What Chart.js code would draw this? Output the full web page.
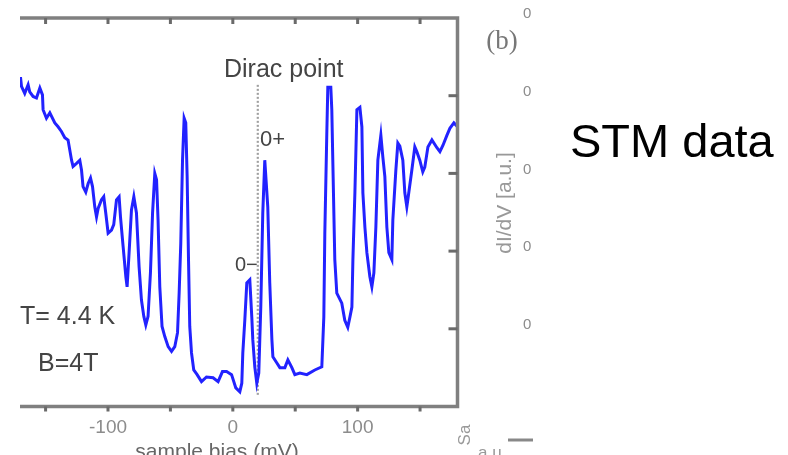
<!DOCTYPE html>
<html>
<head>
<meta charset="utf-8">
<script src="https://cdn.jsdelivr.net/npm/chart.js@4.4.0/dist/chart.umd.min.js"></script>
<style>
    html, body { margin: 0; padding: 0; background: #fff; }
    #wrap { width: 788px; height: 455px; }
</style>
</head>
<body>
<div id="wrap"><canvas id="stm-chart" width="788" height="455"></canvas></div>
<script>
// Tunnelling spectrum dI/dV vs sample bias, T = 4.4 K, B = 4 T
const biasMv = [
    -170.1, -169.3, -166.7, -164.0, -162.7, -160.0, -157.3, -154.6, -152.5, -152.0,
    -149.3, -146.6, -142.6, -140.0, -137.3, -134.6, -132.0, -129.2, -128.0, -125.2,
    -122.6, -121.2, -120.0, -117.8, -115.9, -114.0, -112.4, -110.6, -109.2, -107.9,
    -105.2, -103.4, -101.8, -99.9, -97.2, -95.4, -93.2, -91.1, -90.0, -87.9,
    -85.7, -84.7, -83.1, -81.2, -79.3, -77.2, -75.1, -73.2, -71.3, -69.7,
    -67.9, -66.0, -64.3, -62.5, -61.1, -59.9, -58.5, -56.7, -54.5, -51.8,
    -49.1, -46.5, -44.3, -43.0, -41.7, -40.3, -39.0, -37.7, -36.6, -35.5,
    -34.5, -33.1, -31.3, -28.6, -25.1, -21.1, -15.8, -11.8, -8.3, -5.0,
    -1.0, 2.4, 5.6, 7.2, 8.0, 9.6, 11.2, 13.6, 15.2, 16.0,
    17.6, 19.2, 20.8, 22.4, 24.0, 25.6, 28.0, 29.6, 31.3, 32.1,
    35.3, 37.7, 41.7, 44.1, 47.3, 49.7, 53.7, 59.3, 65.7, 71.3,
    72.9, 73.7, 75.3, 76.1, 78.5, 79.3, 80.1, 81.7, 83.3, 87.3,
    89.7, 92.1, 93.8, 95.4, 96.2, 97.8, 99.4, 101.8, 103.4, 104.2,
    105.8, 107.4, 109.8, 111.4, 113.0, 114.6, 116.2, 118.6, 120.2, 121.8,
    123.4, 125.0, 127.4, 128.2, 130.6, 132.2, 133.8, 136.2, 137.8, 139.4,
    140.2, 143.4, 145.8, 147.4, 149.8, 152.2, 153.8, 156.3, 159.5, 163.5,
    165.9, 168.3, 171.5, 173.9, 177.1, 180.0
];
const dIdV = [
    4.24, 4.12, 4.03, 4.14, 4.05, 3.99, 3.97, 4.10, 4.01, 3.82,
    3.71, 3.78, 3.65, 3.60, 3.54, 3.46, 3.43, 3.17, 3.09, 3.13,
    3.17, 3.04, 2.83, 2.76, 2.87, 2.94, 2.83, 2.57, 2.44, 2.55,
    2.66, 2.70, 2.49, 2.23, 2.27, 2.34, 2.66, 2.70, 2.44, 2.06,
    1.67, 1.54, 1.98, 2.53, 2.70, 2.49, 1.80, 1.37, 1.16, 1.05,
    1.16, 1.72, 2.49, 3.00, 2.92, 2.40, 1.54, 1.03, 0.90, 0.77,
    0.71, 0.77, 0.95, 1.46, 2.10, 3.17, 3.71, 3.65, 2.96, 1.89,
    1.03, 0.69, 0.47, 0.41, 0.32, 0.38, 0.37, 0.32, 0.45, 0.45,
    0.41, 0.24, 0.19, 0.30, 0.69, 1.11, 1.59, 1.63, 1.15, 0.86,
    0.51, 0.30, 0.43, 1.28, 2.49, 3.17, 2.57, 1.59, 0.86, 0.64,
    0.56, 0.50, 0.50, 0.60, 0.50, 0.41, 0.43, 0.41, 0.47, 0.51,
    1.15, 2.23, 3.52, 4.11, 4.11, 3.82, 3.17, 1.89, 1.46, 1.33,
    1.11, 1.02, 1.15, 1.28, 1.89, 2.75, 3.82, 3.85, 3.60, 2.75,
    2.31, 1.98, 1.67, 1.54, 1.72, 2.31, 3.17, 3.49, 3.21, 2.96,
    2.31, 1.98, 1.89, 2.40, 3.04, 3.39, 3.35, 3.17, 2.75, 2.57,
    2.66, 3.04, 3.34, 3.28, 3.17, 3.02, 3.08, 3.34, 3.43, 3.33,
    3.28, 3.36, 3.49, 3.58, 3.65, 3.60
];

// dotted marker at the Dirac point
const diracBias = [20, 20];
const diracLevel = [0.15, 4.14];

// axis ticks
const xTickValues = [-150, -100, -50, 0, 50, 100, 150];
const xTickLabels = ['', '-100', '', '0', '', '100', ''];
const yTickValues = [0, 1, 2, 3, 4, 5];
const yTickLabels = ['', '0', '0', '0', '0', '0'];

const sans = '"Liberation Sans", Arial, sans-serif';

// box frame with inward ticks, plus the panel notes
const frameAndNotes = {
    id: 'frameAndNotes',
    afterDraw(chart) {
        const { ctx, chartArea: a, scales: { x, y } } = chart;
        ctx.save();

        // frame (top, right, bottom)
        ctx.strokeStyle = '#808080';
        ctx.lineWidth = 3.5;
        ctx.beginPath();
        ctx.moveTo(a.left, a.top);
        ctx.lineTo(a.right, a.top);
        ctx.lineTo(a.right, a.bottom);
        ctx.lineTo(a.left, a.bottom);
        ctx.stroke();

        ctx.strokeStyle = '#6a6a6a';
        ctx.lineWidth = 3;
        xTickValues.forEach((v) => {
            const px = x.getPixelForValue(v);
            ctx.beginPath();
            ctx.moveTo(px, a.top);
            ctx.lineTo(px, a.top + 6);
            ctx.moveTo(px, a.bottom);
            ctx.lineTo(px, a.bottom + 5);
            ctx.stroke();
        });
        yTickValues.slice(1, 5).forEach((v) => {
            const py = y.getPixelForValue(v);
            ctx.beginPath();
            ctx.moveTo(a.right - 9, py);
            ctx.lineTo(a.right, py);
            ctx.stroke();
        });

        // the scanned panel text is soft
        ctx.filter = 'blur(0.5px)';

        // labels inside the plot
        ctx.fillStyle = '#444';
        ctx.textBaseline = 'alphabetic';
        ctx.textAlign = 'left';
        ctx.font = '25px ' + sans;
        ctx.fillText('Dirac point', 224, 77);
        ctx.font = '22px ' + sans;
        ctx.fillText('0+', 260, 146);
        ctx.font = '20px ' + sans;
        ctx.fillText('0\u2212', 235, 271);
        ctx.font = '25px ' + sans;
        ctx.fillText('T= 4.4 K', 20, 324);
        ctx.fillText('B=4T', 38, 371);

        // axis titles
        ctx.fillStyle = '#666';
        ctx.textAlign = 'center';
        ctx.font = '21px ' + sans;
        ctx.fillText('sample bias (mV)', 217, 458);

        ctx.save();
        ctx.translate(505, 203);
        ctx.rotate(-Math.PI / 2);
        ctx.fillStyle = '#999';
        ctx.font = '21px ' + sans;
        ctx.textBaseline = 'middle';
        ctx.fillText('dI/dV [a.u.]', 0, 0);
        ctx.restore();

        // panel letter
        ctx.fillStyle = '#777';
        ctx.textBaseline = 'middle';
        ctx.font = '27px "Liberation Serif", "Times New Roman", serif';
        ctx.fillText('(b)', 502, 42);

        // pieces of the neighbouring panel
        ctx.strokeStyle = '#888';
        ctx.lineWidth = 3;
        ctx.beginPath();
        ctx.moveTo(508, 440);
        ctx.lineTo(533, 440);
        ctx.stroke();
        ctx.fillStyle = '#999';
        ctx.textBaseline = 'alphabetic';
        ctx.textAlign = 'left';
        ctx.font = '17px ' + sans;
        ctx.fillText('a.u', 478, 458);
        ctx.save();
        ctx.translate(465, 435);
        ctx.rotate(-Math.PI / 2);
        ctx.textAlign = 'center';
        ctx.textBaseline = 'middle';
        ctx.fillText('Sa', 0, 0);
        ctx.restore();

        ctx.filter = 'none';

        // caption
        ctx.fillStyle = '#000';
        ctx.textAlign = 'left';
        ctx.textBaseline = 'alphabetic';
        ctx.font = '47px ' + sans;
        ctx.fillText('STM data', 570, 157);

        ctx.restore();
    },
};

const curvePoints = biasMv.map((b, i) => ({ x: b, y: dIdV[i] }));
const diracPoints = diracBias.map((b, i) => ({ x: b, y: diracLevel[i] }));

new Chart(document.getElementById('stm-chart'), {
    type: 'line',
    data: {
        datasets: [
            {
                label: 'dI/dV',
                data: curvePoints,
                borderColor: '#2222ff',
                borderWidth: 3,
                pointRadius: 0,
                tension: 0,
                fill: false,
            },
            {
                label: 'Dirac point',
                data: diracPoints,
                borderColor: '#a0a0a0',
                borderWidth: 2.2,
                borderDash: [2, 2],
                pointRadius: 0,
                fill: false,
            },
        ],
    },
    options: {
        responsive: false,
        animation: false,
        devicePixelRatio: 1,
        layout: {
            padding: { left: 20, top: 18, right: 250.5, bottom: 0 },
        },
        plugins: {
            legend: { display: false },
            tooltip: { enabled: false },
        },
        scales: {
            x: {
                type: 'linear',
                position: 'bottom',
                min: -170.5,
                max: 180,
                grid: { display: false, drawTicks: false },
                border: { display: false },
                afterBuildTicks: (scale) => {
                    scale.ticks = xTickValues.map((v) => ({ value: v }));
                },
                afterFit: (scale) => {
                    // fixed band under the plot, no extra side padding
                    scale.height = 48.5;
                    scale.paddingLeft = 0;
                    scale.paddingRight = 0;
                },
                ticks: {
                    padding: 10,
                    maxRotation: 0,
                    autoSkip: false,
                    color: '#8c8c8c',
                    font: { family: sans, size: 19 },
                    callback: (value) => xTickLabels[xTickValues.indexOf(value)] ?? '',
                },
            },
            y: {
                type: 'linear',
                position: 'right',
                min: 0,
                max: 5,
                grid: { display: false, drawTicks: false },
                border: { display: false },
                afterBuildTicks: (scale) => {
                    scale.ticks = yTickValues.map((v) => ({ value: v }));
                },
                afterFit: (scale) => {
                    scale.width = 80;
                    scale.paddingTop = 0;
                    scale.paddingBottom = 0;
                },
                ticks: {
                    padding: 65.5,
                    labelOffset: -4,
                    color: '#8c8c8c',
                    font: { family: sans, size: 15 },
                    callback: (value) => yTickLabels[yTickValues.indexOf(value)] ?? '',
                },
            },
        },
    },
    plugins: [frameAndNotes],
});
</script>
</body>
</html>
